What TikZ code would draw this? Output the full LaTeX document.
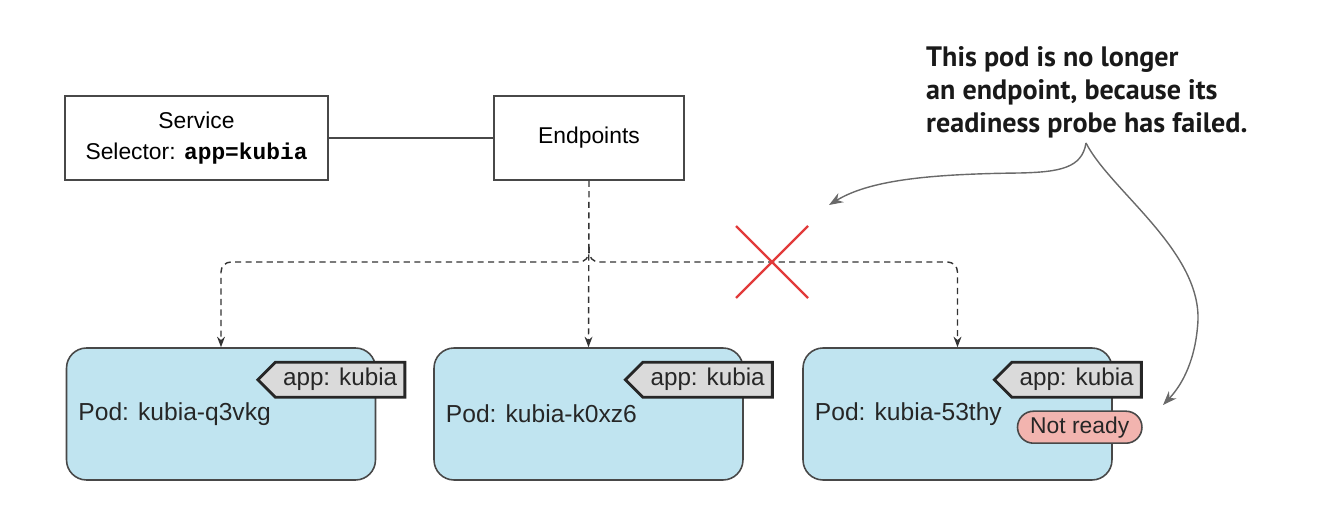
\documentclass[tikz,border=0pt]{standalone}
\usepackage{fontspec}
\setmainfont{Liberation Sans}
\setmonofont{Liberation Mono}
\newfontfamily\notefont{PT Sans}
\usepackage{xcolor}
\definecolor{pod-blue}{RGB}{192,228,240}
\definecolor{tag-gray}{RGB}{218,218,218}
\definecolor{edge-gray}{RGB}{72,72,72}
\definecolor{warn-pink}{RGB}{242,180,175}
\definecolor{cross-red}{RGB}{226,58,58}
\definecolor{note-gray}{RGB}{105,105,105}
\usepackage{tikz}
\usetikzlibrary{shapes.symbols,shapes.misc,arrows.meta,positioning}

\begin{document}
\begin{tikzpicture}[
    x=0.02cm, y=-0.02cm,
    plain box/.style={
        draw=edge-gray,
        line width=0.8pt,
        fill=white,
        minimum height=1.68cm,
        font=\fontsize{13}{17.5}\selectfont,
        align=center
    },
    pod box/.style={
        rounded corners=0.4cm,
        draw=edge-gray,
        line width=0.9pt,
        fill=pod-blue,
        minimum width=6.18cm,
        minimum height=2.64cm
    },
    pod name/.style={
        anchor=west,
        text=black!85,
        font=\fontsize{14}{17}\selectfont
    },
    label tag/.style={
        signal,
        signal to=west,
        signal pointer angle=90,
        draw=black!85,
        line width=1.6pt,
        fill=tag-gray,
        minimum width=2.94cm,
        minimum height=0.7cm,
        inner sep=1pt,
        anchor=east,
        text=black!85,
        font=\fontsize{13.8}{16}\selectfont
    },
    status pill/.style={
        rounded rectangle,
        draw=edge-gray,
        line width=0.9pt,
        fill=warn-pink,
        minimum width=2.56cm,
        minimum height=0.64cm,
        inner sep=1pt,
        anchor=east,
        text=black!85,
        font=\fontsize{13}{16}\selectfont
    },
    link/.style={-{Stealth[length=6pt,width=4.5pt]}, draw=black!80, line width=0.8pt,
        dash pattern=on 3.5pt off 2.5pt, rounded corners=0.2cm},
    note arrow/.style={-{Stealth[length=8pt,width=6pt]}, draw=note-gray, line width=0.8pt},
    note text/.style={anchor=north west, align=left, text=black!90,
        font=\notefont\bfseries\fontsize{16}{18.8}\selectfont}
]
\useasboundingbox (0,0) rectangle (1326,526);

% Service and endpoints
\node[plain box, minimum width=5.26cm] (service) at (196.5,138) {Service\\Selector: \texttt{\bfseries app=kubia}};
\node[plain box, minimum width=3.8cm] (ep) at (589,138) {Endpoints};
\draw[draw=edge-gray, line width=0.8pt] (service) -- (ep);

% Pods
\node[pod box] (pod1) at (221,414) {};
\node[pod name] at ([xshift=0.13cm]pod1.west) {Pod: kubia-q3vkg};
\node[label tag] (tag1) at ([xshift=0.6cm,yshift=-0.65cm]pod1.north east) {app: kubia};

\node[pod box] (pod2) at (588.5,414) {};
\node[pod name] at ([xshift=0.13cm]pod2.west) {Pod: kubia-k0xz6};
\node[label tag] (tag2) at ([xshift=0.6cm,yshift=-0.65cm]pod2.north east) {app: kubia};

\node[pod box] (pod3) at (957.5,414) {};
\node[pod name] at ([xshift=0.13cm]pod3.west) {Pod: kubia-53thy};
\node[label tag] (tag3) at ([xshift=0.6cm,yshift=-0.65cm]pod3.north east) {app: kubia};
\node[status pill] (ready3) at ([xshift=0.6cm,yshift=-1.6cm]pod3.north east) {Not ready};

% Dashed links
\coordinate (bus) at (589,262);
\coordinate (hub1) at (pod1.north |- bus);
\coordinate (hub3) at (pod3.north |- bus);
\draw[link] (ep.south) -- (pod2.north);
\draw[link] ([yshift=0.3cm]bus) |- (hub1) -- (pod1.north);
\draw[link] ([yshift=0.3cm]bus) |- (hub3) -- (pod3.north);

% Cut link
\coordinate (cut) at (772,262);
\draw[cross-red, line width=1.3pt] (cut) +(-36,-36) -- +(36,36) (cut) +(-36,36) -- +(36,-36);

% Note
\node[note text] (note) at (920,40) {This pod is no longer\\an endpoint, because its\\readiness probe has failed.};
\coordinate (brace) at (1086,143);
\draw[note arrow] (brace) .. controls (1082,168) and (1060,172) .. (1020,173)
    .. controls (930,174) and (870,180) .. (829,205);
\draw[note arrow] (brace) .. controls (1110,190) and (1200,250) .. (1198,320)
    .. controls (1196,360) and (1182,385) .. (1163,405);

\end{tikzpicture}
\end{document}
